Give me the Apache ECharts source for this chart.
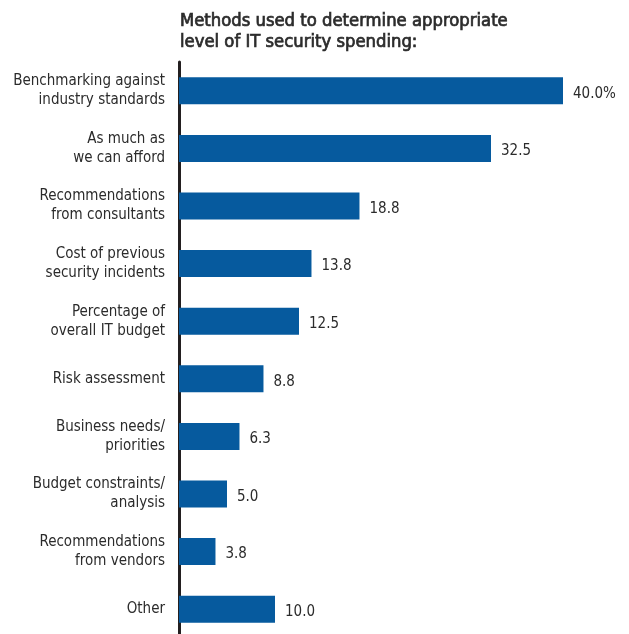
<!DOCTYPE html>
<html>
<head>
<meta charset="utf-8">
<script src="https://cdn.jsdelivr.net/npm/echarts@6/dist/echarts.min.js"></script>
<style>
  html, body { margin: 0; padding: 0; background: #ffffff; }
  #chart { width: 629px; height: 634px; }
</style>
</head>
<body>
<div id="chart"></div>
<script>
// Survey answers: methods used to set the IT security budget (percent of respondents)
const categories = [
  'Benchmarking against\nindustry standards',
  'As much as\nwe can afford',
  'Recommendations\nfrom consultants',
  'Cost of previous\nsecurity incidents',
  'Percentage of\noverall IT budget',
  'Risk assessment',
  'Business needs/\npriorities',
  'Budget constraints/\nanalysis',
  'Recommendations\nfrom vendors',
  'Other'
];
const values = [40.0, 32.5, 18.8, 13.8, 12.5, 8.8, 6.3, 5.0, 3.8, 10.0];
const valueLabels = ['40.0%', '32.5', '18.8', '13.8', '12.5', '8.8', '6.3', '5.0', '3.8', '10.0'];

const FONT = '"DejaVu Sans Condensed", "Liberation Sans", Arial, sans-serif';
const TEXT = '#2b2b2b';

const chart = echarts.init(document.getElementById('chart'), null, { renderer: 'canvas' });
chart.setOption({
  animation: false,
  backgroundColor: '#ffffff',
  title: {
    text: 'Methods used to determine appropriate\nlevel of IT security spending:',
    left: 175,
    top: 6,
    textStyle: {
      fontFamily: FONT,
      fontSize: 18.3,
      fontWeight: 'normal',
      color: TEXT,
      textBorderColor: TEXT,
      textBorderWidth: 0.7,
      lineHeight: 21
    }
  },
  grid: { left: 179, top: 62, width: 384, height: 576, outerBoundsMode: 'none' },
  xAxis: {
    type: 'value',
    min: 0,
    max: 40,
    show: false
  },
  yAxis: {
    type: 'category',
    data: categories,
    inverse: true,
    axisLine: { show: true, lineStyle: { color: '#231f20', width: 3 } },
    axisTick: { show: false },
    splitLine: { show: false },
    axisLabel: {
      margin: 14,
      fontFamily: FONT,
      fontSize: 15,
      lineHeight: 19,
      color: TEXT,
      align: 'right'
    }
  },
  series: [{
    type: 'bar',
    data: values,
    barWidth: 27,
    itemStyle: { color: '#065a9e' },
    label: {
      show: true,
      position: 'right',
      distance: 10,
      offset: [0, 3],
      fontFamily: FONT,
      fontSize: 15,
      color: TEXT,
      formatter: p => valueLabels[p.dataIndex]
    }
  }]
});
</script>
</body>
</html>
